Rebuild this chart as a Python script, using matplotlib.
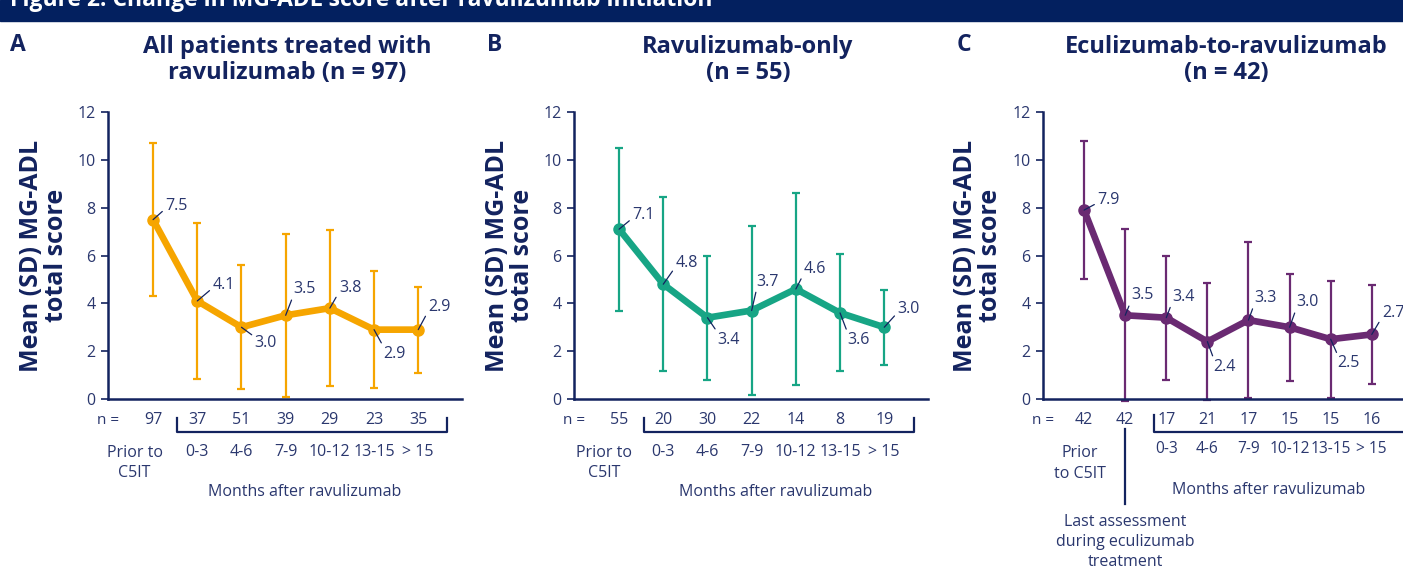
import matplotlib
matplotlib.use("Agg")
import matplotlib.pyplot as plt
from matplotlib.patches import Rectangle
from matplotlib.lines import Line2D
import matplotlib.transforms as mtransforms

plt.rcParams['font.family'] = ['Open Sans', 'DejaVu Sans']

# data
months = ['0-3', '4-6', '7-9', '10-12', '13-15', '> 15']

a_mean = [7.5, 4.1, 3.0, 3.5, 3.8, 2.9, 2.9]
a_sd = [3.2, 3.25, 2.6, 3.4, 3.25, 2.45, 1.8]
a_n = [97, 37, 51, 39, 29, 23, 35]

b_mean = [7.1, 4.8, 3.4, 3.7, 4.6, 3.6, 3.0]
b_sd = [3.4, 3.65, 2.6, 3.55, 4.0, 2.45, 1.57]
b_n = [55, 20, 30, 22, 14, 8, 19]

c_mean = [7.9, 3.5, 3.4, 2.4, 3.3, 3.0, 2.5, 2.7]
c_sd = [2.87, 3.6, 2.6, 2.45, 3.26, 2.24, 2.45, 2.07]
c_n = [42, 42, 17, 21, 17, 15, 15, 16]

# label offsets in pixels (dx right, dy down)
a_off = [(12, -14), (15, -16), (13, 16), (8, -26), (9, -20), (9, 24), (10, -23)]
b_off = [(13, -14), (12, -21), (10, 22), (5, -29), (8, -20), (7, 27), (13, -18)]
c_off = [(13, -10), (6, -20), (6, -21), (6, 25), (6, -22), (7, -25), (7, 24), (10, -21)]

NAVY = '#13235f'
TXT = '#2a376e'
W, H = 1403, 568

fig = plt.figure(figsize=(W / 100, H / 100), dpi=100)

# header band
fig.patches.append(Rectangle((0, 1 - 20.5 / H), 1, 20.5 / H, transform=fig.transFigure,
                             color='#03205f', zorder=0))
fig.text(10 / W, 1 - 6 / H, 'Figure 2. Change in MG-ADL score after ravulizumab initiation',
         color='white', fontsize=16.5, fontweight='bold', va='baseline', ha='left')


def fy(py):
    return 1 - py / H


def panel(left, width, xlim, mean, sd, n, off, color, lw, letter, letter_x, title, title_x):
    ax = fig.add_axes([left / W, fy(399), width / W, 287 / H])
    x = list(range(len(mean)))
    ax.errorbar(x, mean, yerr=sd, fmt='none', ecolor=color, elinewidth=1.6,
                capsize=3, capthick=1.6, clip_on=False, zorder=2)
    ax.plot(x, mean, color=color, lw=lw, marker='o', ms=8, zorder=3, clip_on=False)
    for xi, m, (dx, dy) in zip(x, mean, off):
        rel = (0.05, 0.35) if dy < 0 else (0.05, 0.85)
        ax.annotate('%.1f' % m, (xi, m), xytext=(dx, -dy), textcoords='offset pixels',
                    ha='left', va='center', fontsize=11.5, color=TXT, zorder=4,
                    arrowprops=dict(arrowstyle='-', color=NAVY, lw=0.9,
                                    shrinkA=0, shrinkB=0, relpos=rel),
                    annotation_clip=False)
    ax.set_xlim(*xlim)
    ax.set_ylim(0, 12)
    ax.set_yticks(range(0, 13, 2))
    ax.set_xticks([])
    for s in ['top', 'right']:
        ax.spines[s].set_visible(False)
    for s in ['left', 'bottom']:
        ax.spines[s].set_color(NAVY)
        ax.spines[s].set_linewidth(1.8)
    ax.tick_params(axis='y', colors=NAVY, labelcolor=TXT, labelsize=11.5,
                   length=5, width=1.2, pad=4)
    ax.text(-0.18, 0.5, 'Mean (SD) MG-ADL\ntotal score', transform=ax.transAxes,
            rotation=90, ha='center', va='center', fontsize=18, fontweight='bold',
            color=NAVY, multialignment='center', linespacing=1.0)
    fig.text(letter_x / W, fy(45), letter, fontsize=16.5, fontweight='bold',
             color=NAVY, ha='left', va='center')
    fig.text(title_x / W, fy(60), title, fontsize=17, fontweight='bold',
             color=NAVY, ha='center', va='center', linespacing=1.15)
    tr = mtransforms.blended_transform_factory(ax.transData, fig.transFigure)
    ax.text(xlim[0], fy(420.5), 'n =', transform=tr, ha='center', va='center',
            fontsize=11, color=TXT)
    for xi, ni in zip(x, n):
        ax.text(xi, fy(420.5), str(ni), transform=tr, ha='center', va='center',
                fontsize=11.5, color=TXT)
    return ax, tr


def bracket(ax, tr, x0, x1, right_tick=True):
    xs = [x0, x0, x1, x1] if right_tick else [x0, x0, x1]
    ys = [fy(418), fy(432), fy(432), fy(418)] if right_tick else [fy(415), fy(432), fy(432)]
    ax.add_line(Line2D(xs, ys, transform=tr, color=NAVY, lw=1.6, clip_on=False))


# Panel A
axA, trA = panel(108, 354, (-1.02, 6.99), a_mean, a_sd, a_n, a_off, '#f6a500', 4.8,
                 'A', 10, 'All patients treated with\nravulizumab (n = 97)', 287)
bracket(axA, trA, 0.54, 6.65)
axA.text(-0.42, fy(463), 'Prior to\nC5IT', transform=trA, ha='center', va='center',
         fontsize=11.5, color=TXT, linespacing=1.35)
for i, lab in enumerate(months):
    axA.text(i + 1, fy(451.5), lab, transform=trA, ha='center', va='center',
             fontsize=11.5, color=TXT)
axA.text(3.43, fy(492), 'Months after ravulizumab', transform=trA, ha='center',
         va='center', fontsize=11.5, color=TXT)

# Panel B
axB, trB = panel(574, 354, (-1.02, 6.99), b_mean, b_sd, b_n, b_off, '#17a585', 4.8,
                 'B', 487, 'Ravulizumab-only\n(n = 55)', 748)
bracket(axB, trB, 0.56, 6.67)
axB.text(-0.34, fy(463), 'Prior to\nC5IT', transform=trB, ha='center', va='center',
         fontsize=11.5, color=TXT, linespacing=1.35)
for i, lab in enumerate(months):
    axB.text(i + 1, fy(451.5), lab, transform=trB, ha='center', va='center',
             fontsize=11.5, color=TXT)
axB.text(3.55, fy(492), 'Months after ravulizumab', transform=trB, ha='center',
         va='center', fontsize=11.5, color=TXT)

# Panel C
axC, trC = panel(1043, 360, (-1.0, 7.76), c_mean, c_sd, c_n, c_off, '#6a2a72', 4.8,
                 'C', 957, 'Eculizumab-to-ravulizumab\n(n = 42)', 1226)
bracket(axC, trC, 1.7, 8.5, right_tick=False)
axC.text(-0.1, fy(463.5), 'Prior\nto C5IT', transform=trC, ha='center', va='center',
         fontsize=11.5, color=TXT, linespacing=1.35)
axC.add_line(Line2D([1, 1], [fy(429), fy(504)], transform=trC, color=NAVY, lw=1.6,
                    clip_on=False))
axC.text(1, fy(542), 'Last assessment\nduring eculizumab\ntreatment', transform=trC,
         ha='center', va='center', fontsize=11.5, color=TXT, linespacing=1.3)
for i, lab in enumerate(months):
    axC.text(i + 2, fy(449), lab, transform=trC, ha='center', va='center',
             fontsize=11.2, color=TXT)
axC.text(4.48, fy(490), 'Months after ravulizumab', transform=trC, ha='center',
         va='center', fontsize=11.5, color=TXT)

fig.savefig('out.png', dpi=100)
